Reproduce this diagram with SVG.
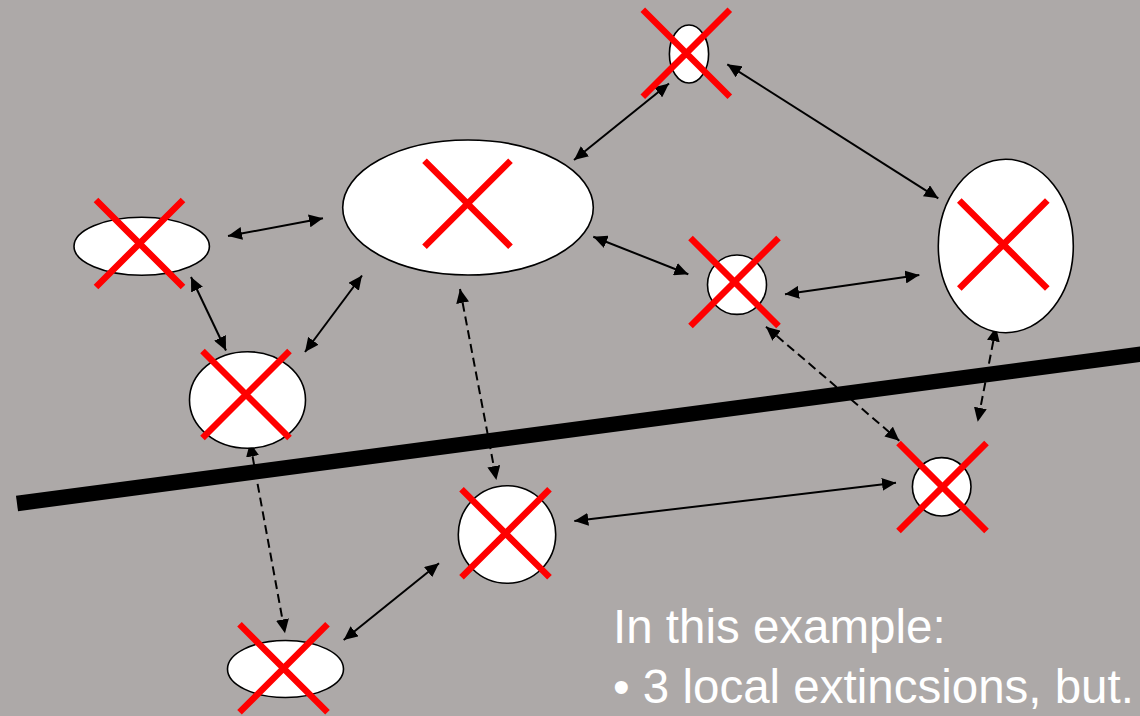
<svg xmlns="http://www.w3.org/2000/svg" width="1140" height="716" viewBox="0 0 1140 716">
<defs>
<marker id="ah" markerUnits="userSpaceOnUse" markerWidth="15" markerHeight="13" refX="14" refY="6.5" orient="auto-start-reverse">
<path d="M0,0 L14,6.5 L0,13 z" fill="#000"/>
</marker>
<style>
.node{fill:#fff;stroke:#000;stroke-width:1.6}
.x{stroke:#ff0000;stroke-width:6.5;fill:none}
.c{stroke:#000;stroke-width:2;fill:none;marker-start:url(#ah);marker-end:url(#ah)}
.d{stroke-dasharray:9 5}
.t{font-family:"Liberation Sans",Arial,sans-serif;font-size:47.5px;fill:#fff}
</style>
</defs>
<rect width="1140" height="716" fill="#ADA9A8"/>
<line id="barrier" x1="17" y1="503.5" x2="1142" y2="354" stroke="#000" stroke-width="15.5"/>
<g id="connectors">
<line class="c" x1="228" y1="236" x2="323" y2="218.3"/>
<line class="c" x1="191" y1="277" x2="226" y2="350.5"/>
<line class="c" x1="305" y1="352" x2="362" y2="275.5"/>
<line class="c" x1="574" y1="160" x2="669" y2="83.5"/>
<line class="c" x1="727.3" y1="64.3" x2="938.3" y2="198.3"/>
<line class="c" x1="593.3" y1="236.7" x2="688.3" y2="274.3"/>
<line class="c" x1="785" y1="294.3" x2="919.3" y2="275"/>
<line class="c" x1="343.7" y1="640" x2="439" y2="563.3"/>
<line class="c" x1="574.3" y1="521" x2="896" y2="482.7"/>
<line class="c d" x1="460" y1="289" x2="496.4" y2="480"/>
<line class="c d" x1="250" y1="442.5" x2="285" y2="633.3"/>
<line class="c d" x1="766" y1="326.7" x2="899.3" y2="440.7"/>
<line class="c d" x1="996" y1="327.3" x2="977.7" y2="421.7"/>
</g>
<g id="n1"><ellipse class="node" cx="141.7" cy="246.3" rx="67.7" ry="29"/><path class="x" d="M96,200 L183,287 M183,200 L96,287"/></g>
<g id="n2"><ellipse class="node" cx="468" cy="207.5" rx="125.3" ry="67.5"/><path class="x" d="M424.5,160.7 L510.5,246.7 M510.5,160.7 L424.5,246.7"/></g>
<g id="n3"><ellipse class="node" cx="689" cy="54" rx="19.6" ry="29"/><path class="x" d="M642.8,9.8 L729.8,96.8 M729.8,9.8 L642.8,96.8"/></g>
<g id="n4"><ellipse class="node" cx="1005.8" cy="246" rx="67.5" ry="86.7"/><path class="x" d="M959.3,200.5 L1047.3,288.5 M1047.3,200.5 L959.3,288.5"/></g>
<g id="n5"><ellipse class="node" cx="737" cy="284.7" rx="29.5" ry="29.7"/><path class="x" d="M690.5,238 L778.5,326 M778.5,238 L690.5,326"/></g>
<g id="n6"><ellipse class="node" cx="247.5" cy="400" rx="58" ry="48.3"/><path class="x" d="M202.5,351 L289.5,438 M289.5,351 L202.5,438"/></g>
<g id="n7"><ellipse class="node" cx="507" cy="534.5" rx="48.7" ry="48.8"/><path class="x" d="M461.5,489.3 L549.5,577.3 M549.5,489.3 L461.5,577.3"/></g>
<g id="n8"><ellipse class="node" cx="941.7" cy="486.8" rx="29.3" ry="29.2"/><path class="x" d="M898.5,443 L986.5,531 M986.5,443 L898.5,531"/></g>
<g id="n9"><ellipse class="node" cx="285.5" cy="669" rx="58" ry="28.5"/><path class="x" d="M239.5,624.3 L327.5,712.3 M327.5,624.3 L239.5,712.3"/></g>
<g id="caption">
<text class="t" x="613" y="643">In this example:</text>
<text class="t" x="613" y="703">• 3 local extincsions, but.</text>
</g>
</svg>
